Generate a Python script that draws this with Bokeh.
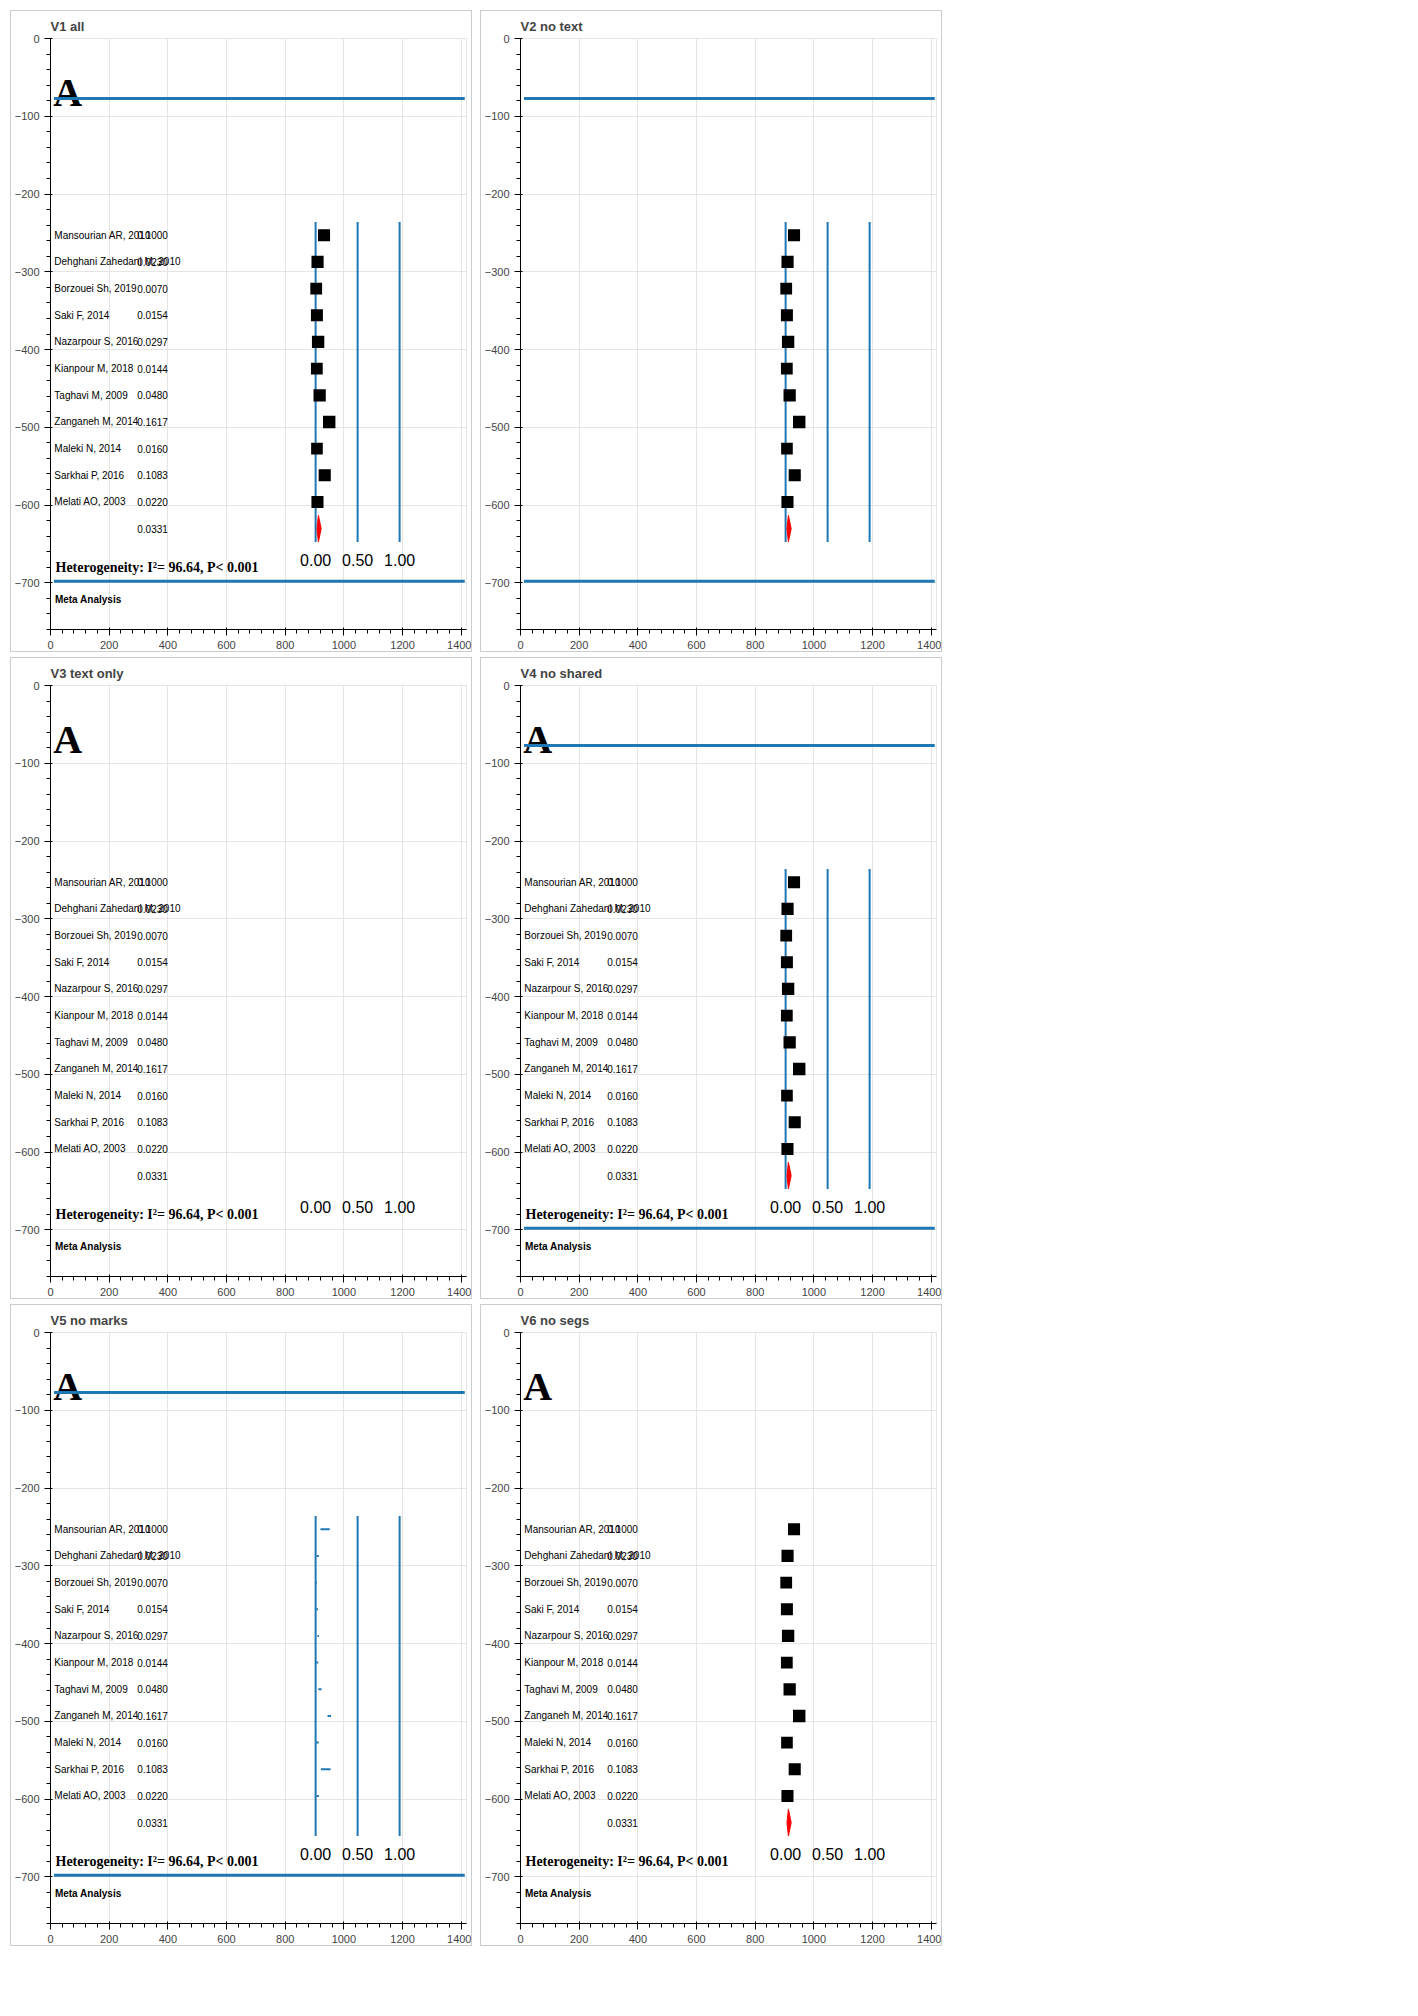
from bokeh.plotting import figure
from bokeh.models import Range1d
from bokeh.embed import components
from bokeh.resources import INLINE
from bokeh.core.properties import value
import math

studies_a = ["Mansourian AR, 2010", "Dehghani Zahedani M, 2010", "Borzouei Sh, 2019", "Saki F, 2014",
             "Nazarpour S, 2016", "Kianpour M, 2018", "Taghavi M, 2009", "Zanganeh M, 2014",
             "Maleki N, 2014", "Sarkhai P, 2016", "Melati AO, 2003"]
rate_a = [0.1000, 0.0230, 0.0070, 0.0154, 0.0297, 0.0144, 0.0480, 0.1617, 0.0160, 0.1083, 0.0220]
lower_a = [0.0577, 0.0137, 0.0032, 0.0080, 0.0222, 0.0065, 0.0324, 0.1419, 0.0067, 0.0640, 0.0122]
upper_a = [0.1679, 0.0385, 0.0156, 0.0292, 0.0397, 0.0316, 0.0706, 0.1836, 0.0378, 0.1777, 0.0393]
weight_a = [9.11, 9.22, 8.67, 8.99, 9.54, 8.67, 9.41, 9.66, 8.49, 9.14, 9.10]
pooled_a = [0.0331, 0.0162, 0.0661, -9.094, 0.000]
tick_values = [0.0, 0.5, 1.0]
tick_labels = ["0.00", "0.50", "1.00"]


def build(title, text=True, marks=True, segs=True, shared=True, letter=True, het=True):
    W, H = 460, 640
    f = figure(width=W, height=H, title=title, x_range=Range1d(0, 1418), y_range=Range1d(-760, 0),
               output_backend="svg", toolbar_location=None, tools="")
    f.extra_x_ranges = {"fA": Range1d(start=-903.7 / 286.3, end=(1418 - 903.7) / 286.3)}
    f.extra_y_ranges = {"rA": Range1d(start=-(760 - 253) / 34.3, end=253 / 34.3)}
    SANS = value("Liberation Sans")
    n = 11
    rows = list(range(n))
    if text:
        fnt = SANS if shared else value("Liberation Sans")
        f.text(x=[13] * n, y=[-r for r in rows], text=studies_a, text_font=fnt, text_font_size="10px",
               text_baseline="middle", y_range_name="rA")
        f.text(x=[400] * 12, y=[-r for r in rows + [n]], text=[f"{v:.4f}" for v in rate_a + [pooled_a[0]]],
               text_font=fnt if shared else value("Liberation Sans"), text_font_size="10px",
               text_align="right", text_baseline="middle", y_range_name="rA")
        tv = tick_values if shared else list(tick_values)
        f.text(x=tv, y=[-671] * 3, text=tick_labels, text_align="center", text_baseline="middle",
               x_range_name="fA")
    if letter:
        f.text(x=[9], y=[-70], text=["A"], text_font=value("Liberation Serif"), text_font_style="bold",
               text_font_size="40px", text_baseline="alphabetic")
    if het:
        f.text(x=[17], y=[-680], text=["Heterogeneity: I\u00b2= 96.64, P< 0.001"],
               text_font=value("Liberation Serif"), text_font_style="bold", text_font_size="14px",
               text_baseline="middle")
        f.text(x=[15], y=[-721], text=["Meta Analysis"], text_font=value("Liberation Sans"),
               text_font_style="bold", text_font_size="10px", text_baseline="middle")
    if segs:
        if shared:
            f.segment(x0=tick_values, x1=tick_values, y0=[0.5] * 3, y1=[-11.5] * 3, line_width=2,
                      x_range_name="fA", y_range_name="rA")
        else:
            f.segment(x0=[0.0, 0.5, 1.0], x1=[0.0, 0.5, 1.0], y0=[0.5] * 3, y1=[-11.5] * 3, line_width=2,
                      x_range_name="fA", y_range_name="rA")
        f.segment(x0=[12, 12], y0=[-77, -698], x1=[1412, 1412], y1=[-77, -698], line_width=3)
        f.segment(x0=lower_a, x1=upper_a, y0=[-r for r in rows], y1=[-r for r in rows], line_width=2,
                  x_range_name="fA", y_range_name="rA")
    if marks:
        sizes = [4 * math.sqrt(w) for w in weight_a]
        f.rect(x=rate_a, y=[-r for r in rows], width=sizes, height=sizes, width_units="screen",
               height_units="screen", fill_color="black", line_color=None, x_range_name="fA", y_range_name="rA")
        f.patches(xs=[[pooled_a[1], pooled_a[0], pooled_a[2], pooled_a[0]]], ys=[[-11, -10.5, -11, -11.5]],
                  fill_color="red", line_color="red", x_range_name="fA", y_range_name="rA")
    return f


variants = [
    build("V1 all"),
    build("V2 no text", text=False, letter=False, het=False),
    build("V3 text only", marks=False, segs=False),
    build("V4 no shared", shared=False),
    build("V5 no marks", marks=False),
    build("V6 no segs", segs=False),
]

parts = []
for t in variants:
    script, div = components(t)
    parts.append(f'<div style="display:inline-block;margin:2px;border:1px solid #ccc">{div}</div>{script}')

html = ("<!DOCTYPE html><html><head><meta charset='utf-8'>" + INLINE.render() +
        "</head><body>" + "".join(parts) + "</body></html>")
open("out.html", "w").write(html)
